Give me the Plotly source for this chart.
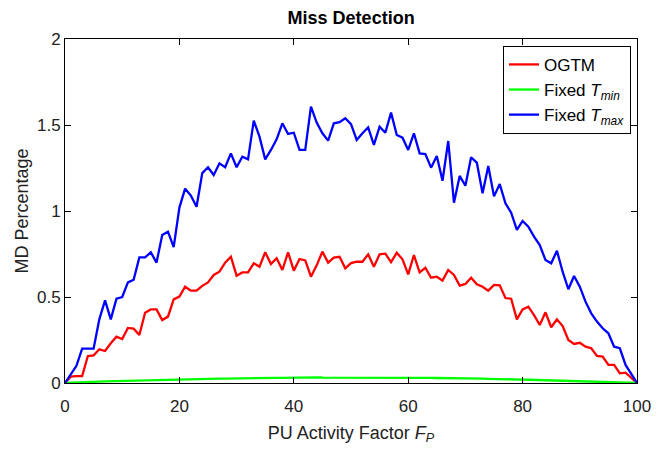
import plotly.graph_objects as go

x_vals = list(range(0, 101))

ogtm = [0.0, 0.037, 0.04, 0.04, 0.157, 0.161, 0.196, 0.186, 0.231, 0.269,
        0.256, 0.320, 0.316, 0.279, 0.409, 0.428, 0.428, 0.366, 0.386, 0.486,
        0.502, 0.560, 0.537, 0.537, 0.565, 0.585, 0.628, 0.647, 0.700, 0.734,
        0.624, 0.643, 0.643, 0.696, 0.676, 0.760, 0.692, 0.725, 0.657, 0.760,
        0.653, 0.721, 0.713, 0.618, 0.684, 0.764, 0.700, 0.729, 0.734, 0.667,
        0.697, 0.705, 0.705, 0.748, 0.676, 0.748, 0.752, 0.703, 0.757, 0.719,
        0.632, 0.744, 0.643, 0.670, 0.612, 0.618, 0.595, 0.657, 0.628, 0.566,
        0.576, 0.612, 0.574, 0.560, 0.537, 0.570, 0.568, 0.494, 0.490, 0.370,
        0.428, 0.444, 0.395, 0.337, 0.411, 0.324, 0.370, 0.331, 0.250, 0.227,
        0.234, 0.211, 0.202, 0.157, 0.153, 0.105, 0.105, 0.056, 0.060, 0.027,
        0.0]

fixed_tmin = [0.0,
              0.002, 0.004, 0.005, 0.006, 0.007, 0.008, 0.009, 0.010, 0.011, 0.012,
              0.013, 0.014, 0.015, 0.016, 0.017, 0.017, 0.018, 0.019, 0.020, 0.021,
              0.021, 0.022, 0.022, 0.023, 0.024, 0.024, 0.025, 0.025, 0.026, 0.027,
              0.027, 0.028, 0.028, 0.029, 0.029, 0.030, 0.030, 0.030, 0.031, 0.031,
              0.031, 0.032, 0.032, 0.033, 0.032, 0.032, 0.033, 0.033, 0.033, 0.033,
              0.033, 0.033, 0.034, 0.033, 0.033, 0.032, 0.033, 0.032, 0.032, 0.031,
              0.031, 0.031, 0.030, 0.030, 0.029, 0.029, 0.028, 0.028, 0.027, 0.027,
              0.026, 0.025, 0.025, 0.024, 0.024, 0.023, 0.022, 0.022, 0.021, 0.020,
              0.019, 0.018, 0.017, 0.017, 0.016, 0.015, 0.014, 0.013, 0.012, 0.011,
              0.010, 0.009, 0.008, 0.007, 0.006, 0.005, 0.004, 0.003, 0.002, 0.0]

fixed_tmax = [0.0, 0.05, 0.10, 0.20, 0.20, 0.20, 0.37, 0.48, 0.37, 0.49,
              0.50, 0.585, 0.60, 0.73, 0.73, 0.76, 0.70, 0.86, 0.88, 0.79,
              1.02, 1.13, 1.09, 1.025, 1.22, 1.254, 1.209, 1.277, 1.254, 1.335,
              1.254, 1.316, 1.300, 1.525, 1.432, 1.300, 1.355, 1.417, 1.510, 1.448,
              1.455, 1.355, 1.355, 1.607, 1.514, 1.452, 1.409, 1.510, 1.516, 1.539,
              1.505, 1.413, 1.452, 1.486, 1.384, 1.490, 1.455, 1.572, 1.442, 1.426,
              1.355, 1.452, 1.335, 1.331, 1.252, 1.320, 1.176, 1.407, 1.048, 1.204,
              1.147, 1.312, 1.281, 1.103, 1.262, 1.085, 1.157, 1.045, 0.990, 0.890,
              0.942, 0.909, 0.851, 0.802, 0.715, 0.696, 0.769, 0.647, 0.545, 0.622,
              0.560, 0.473, 0.405, 0.357, 0.318, 0.289, 0.211, 0.202, 0.105, 0.050,
              0.0]

series_names = ["OGTM", "Fixed <i>T</i><sub><i>min</i></sub>", "Fixed <i>T</i><sub><i>max</i></sub>"]
series_colors = ["#FF0000", "#00FF00", "#0000FF"]

x_ticks = [0, 20, 40, 60, 80, 100]
y_ticks = [0, 0.5, 1, 1.5, 2]
y_tick_labels = ["0", "0.5", "1", "1.5", "2"]

FONT = "Liberation Sans Narrow, Arial Narrow, Liberation Sans, Arial, sans-serif"

fig = go.Figure()
for name, ys, col in zip(series_names, [ogtm, fixed_tmin, fixed_tmax], series_colors):
    fig.add_trace(go.Scatter(x=x_vals, y=ys, mode="lines", name=name,
                             line=dict(color=col, width=2.3)))

axis_common = dict(showline=True, linecolor="black", linewidth=1, mirror="ticks",
                   ticks="inside", ticklen=6, tickcolor="black", showgrid=False,
                   zeroline=False, tickfont=dict(family=FONT, size=17, color="#222222"))

fig.update_layout(
    width=664, height=453,
    margin=dict(l=65, r=27, t=39, b=70),
    paper_bgcolor="white", plot_bgcolor="white",
    font=dict(family=FONT, color="#222222"),
    title=dict(text="<b>Miss Detection</b>", x=0.5288, xanchor="center", y=0.96, yanchor="middle",
               font=dict(family=FONT, size=18, color="black")),
    xaxis=dict(range=[0, 100], tickvals=x_ticks, ticktext=[str(v) for v in x_ticks],
               ticklabelstandoff=8,
               title=dict(text="PU Activity Factor <i>F</i><sub><i>P</i></sub>",
                          font=dict(family=FONT, size=18, color="#222222"), standoff=10),
               **axis_common),
    yaxis=dict(range=[0, 2], tickvals=y_ticks, ticktext=y_tick_labels,
               title=dict(text="MD Percentage", font=dict(family=FONT, size=18, color="#222222"),
                          standoff=3),
               **axis_common),
    legend=dict(x=0.9895, xanchor="right", y=0.98, yanchor="top",
                bgcolor="white", bordercolor="black", borderwidth=1,
                font=dict(family=FONT, size=17, color="black"),
                itemwidth=30, tracegroupgap=0),
    showlegend=True,
)

fig.write_html("out.html")
